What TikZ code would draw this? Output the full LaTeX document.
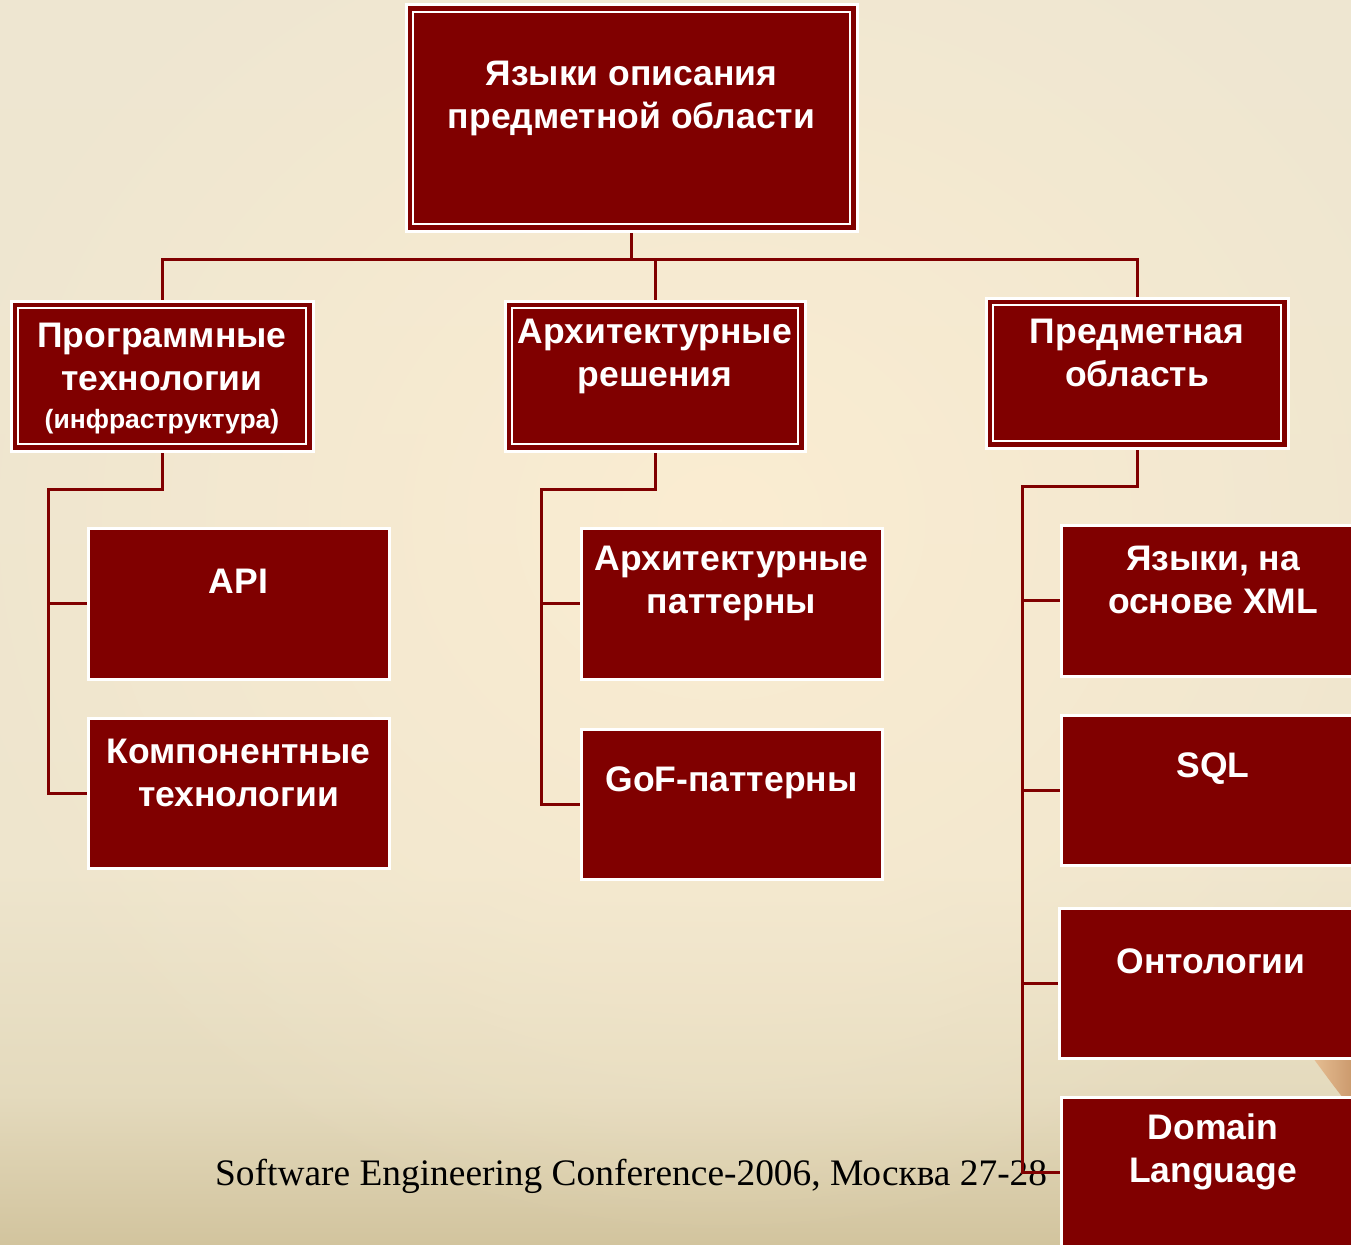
\documentclass[tikz,border=0pt]{standalone}
\usepackage{fontspec}
\setmainfont{Liberation Serif}
\setsansfont{Liberation Sans}
\usetikzlibrary{fadings}
\definecolor{dred}{HTML}{800000}
\definecolor{bgtop}{HTML}{EEE6D1}
\definecolor{bgmid}{HTML}{EEE5CD}
\definecolor{bgmid2}{HTML}{E4DABD}
\definecolor{bgbot}{HTML}{D2C49E}
\definecolor{bglight}{HTML}{FBEDD2}
\definecolor{skinA}{HTML}{E6BE93}
\definecolor{skinB}{HTML}{C9976A}
\pgfdeclareverticalshading{bgv}{100bp}{color(0bp)=(bgbot); color(25bp)=(bgbot); color(31bp)=(bgmid2); color(40bp)=(bgmid); color(75bp)=(bgtop); color(100bp)=(bgtop)}
\tikzfading[name=softfade, inner color=transparent!0, outer color=transparent!100]
\pgfdeclarelayer{back}
\pgfdeclarelayer{lines}
\pgfsetlayers{back,lines,main}
\tikzset{
  conn/.style={draw=dred, line width=3pt},
  redbox/.style 2 args={draw=white, line width=3pt, fill=dred, inner sep=0pt, minimum width=#1, minimum height=#2},
  framed/.style={path picture={\draw[white,line width=2pt] ([xshift=7pt,yshift=-7pt]path picture bounding box.north west) rectangle ([xshift=-7pt,yshift=7pt]path picture bounding box.south east);}},
  txt/.style={text=white, font=\sffamily\bfseries\fontsize{35.5}{43}\selectfont, align=center, inner sep=0pt},
  foot/.style={text=black, font=\rmfamily\fontsize{37.4}{40}\selectfont, inner sep=0pt},
}
\begin{document}
\begin{tikzpicture}[x=1pt,y=-1pt]
\useasboundingbox (0,0) rectangle (1351,1244);
% boxes
\node[redbox={451pt}{226pt}, framed] (b0) at (631.5,118) {};
\node[txt] (t0) at ([yshift=-95pt]b0.north) {Языки описания\\предметной области};
\node[redbox={302pt}{150pt}, framed] (b1) at (162,376) {};
\node[txt] (t1) at ([yshift=-79pt]b1.north) {Программные\\технологии\\[-5pt]{\fontsize{26.5}{30}\selectfont(инфраструктура)}};
\node[redbox={300pt}{150pt}, framed] (b2) at (655,376) {};
\node[txt] (t2) at ([yshift=-56.5pt]b2.north) {Архитектурные\\решения};
\node[redbox={302pt}{150pt}, framed] (b3) at (1137,373) {};
\node[txt] (t3) at ([yshift=-56.5pt]b3.north) {Предметная\\область};
\node[redbox={301pt}{151pt}] (api) at (238.5,603.5) {};
\node[txt] (tapi) at ([yshift=-55pt]api.north) {API};
\node[redbox={301pt}{150pt}] (kom) at (238.5,793) {};
\node[txt] (tkom) at ([yshift=-56.5pt]kom.north) {Компонентные\\технологии};
\node[redbox={301pt}{151pt}] (ap) at (731.5,603.5) {};
\node[txt] (tap) at ([yshift=-56.5pt]ap.north) {Архитектурные\\паттерны};
\node[redbox={301pt}{150pt}] (gof) at (731.5,804) {};
\node[txt] (tgof) at ([yshift=-55pt]gof.north) {GoF-паттерны};
\node[redbox={304pt}{151pt}] (xml) at (1213,600.5) {};
\node[txt] (txml) at ([yshift=-56.5pt]xml.north) {Языки, на\\основе XML};
\node[redbox={304pt}{150pt}] (sql) at (1213,790) {};
\node[txt] (tsql) at ([yshift=-55pt]sql.north) {SQL};
\node[redbox={304pt}{150pt}] (onto) at (1211,983) {};
\node[txt] (tonto) at ([yshift=-55pt]onto.north) {Онтологии};
\node[redbox={304pt}{150pt}] (dom) at (1213,1172) {};
\node[txt] (tdom) at ([yshift=-56.5pt]dom.north) {Domain\\Language};
% background
\begin{pgfonlayer}{back}
\shade[shading=bgv] (0,0) rectangle (1351,1244);
\fill[bglight, path fading=softfade] (720,520) ellipse [x radius=820pt, y radius=720pt];
\shade[left color=skinA, right color=skinB] (1313,1058) .. controls (1325,1074) and (1335,1088) .. (1344,1099) -- (1355,1099) -- (1355,1058) -- cycle;
\node[foot, anchor=base west] (ft) at (215,1185) {Software Engineering Conference-2006, Москва 27-28};
\end{pgfonlayer}
% connectors
\begin{pgfonlayer}{lines}
\coordinate (j0) at (631.5,259);
\draw[conn] (b0.south) -- (j0);
\draw[conn] (b1.north) |- (j0) -| (b3.north);
\draw[conn] (b2.north) -- (b2.north |- j0);
\coordinate (k1) at (48,489);
\draw[conn] (b1.south) |- (k1) |- (kom.west);
\draw[conn] (k1 |- api.west) -- (api.west);
\coordinate (k2) at (541,489);
\draw[conn] (b2.south) |- (k2) |- (gof.west);
\draw[conn] (k2 |- ap.west) -- (ap.west);
\coordinate (k3) at (1022,486);
\draw[conn] (b3.south) |- (k3) |- (dom.west);
\draw[conn] (k3 |- xml.west) -- (xml.west);
\draw[conn] (k3 |- sql.west) -- (sql.west);
\draw[conn] (k3 |- onto.west) -- (onto.west);
\end{pgfonlayer}
\end{tikzpicture}
\end{document}
